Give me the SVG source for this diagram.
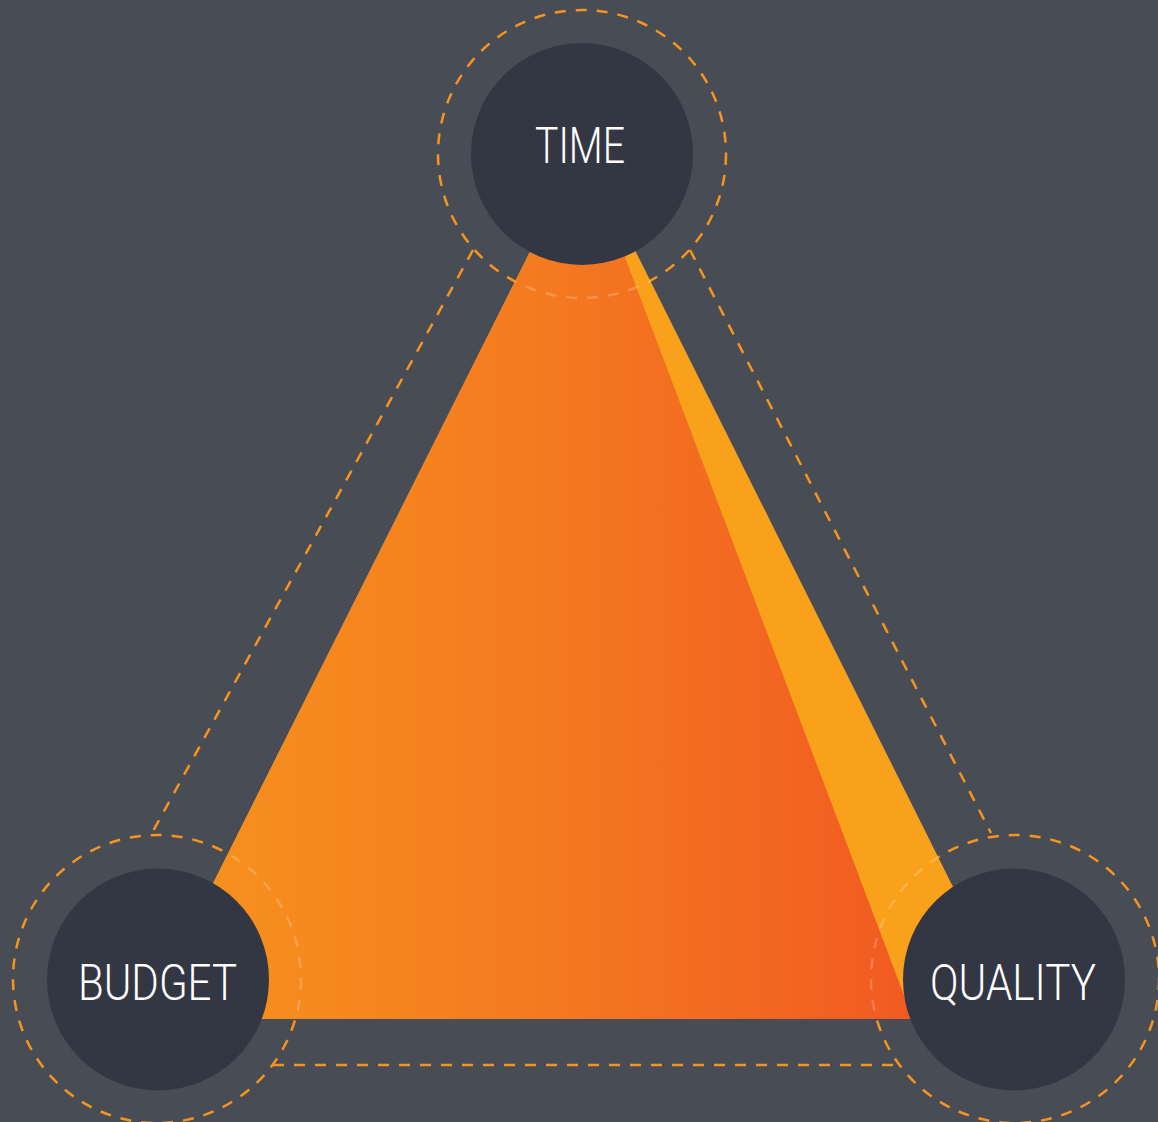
<svg xmlns="http://www.w3.org/2000/svg" width="1158" height="1122" viewBox="0 0 1158 1122">
<style>
.dash{fill:none;stroke:#f7941d;stroke-width:2.5;stroke-dasharray:11 10}
.ghost{fill:none;stroke:#ffffff;stroke-opacity:0.2;stroke-width:2.5;stroke-dasharray:11 10}
.node{fill:#333743}
.lbl{fill:#ffffff;font-family:Roboto,"Liberation Sans",sans-serif;font-weight:300;font-size:50px;text-anchor:middle}
</style>
<defs>
<linearGradient id="og" x1="145" y1="0" x2="913" y2="0" gradientUnits="userSpaceOnUse">
<stop offset="0" stop-color="#f7941d"/>
<stop offset="0.5" stop-color="#f47b20"/>
<stop offset="1" stop-color="#f15a22"/>
</linearGradient>
<clipPath id="triClip"><polygon points="583,146 145,1019 1019,1019"/></clipPath>
</defs>
<rect width="1158" height="1122" fill="#484c55"/>
<g id="connectors">
<circle class="dash" cx="582" cy="154" r="144"/>
<circle class="dash" cx="157" cy="979" r="144"/>
<circle class="dash" cx="1015" cy="979" r="144"/>
<line class="dash" x1="473" y1="250" x2="152" y2="833"/>
<line class="dash" x1="690" y1="250" x2="991" y2="833"/>
<line class="dash" x1="273" y1="1065" x2="900" y2="1065"/>
</g>
<g id="triangle">
<polygon points="583,146 145,1019 1019,1019" fill="#f9a11b"/>
<polygon points="583,146 145,1019 913,1019" fill="url(#og)"/>
<g clip-path="url(#triClip)">
<circle class="ghost" cx="582" cy="154" r="144"/>
<circle class="ghost" cx="157" cy="979" r="144"/>
<circle class="ghost" cx="1015" cy="979" r="144"/>
</g>
</g>
<g id="time">
<circle class="node" cx="582" cy="154" r="111"/>
<text class="lbl" x="580" y="163" textLength="90" lengthAdjust="spacingAndGlyphs">TIME</text>
</g>
<g id="budget">
<circle class="node" cx="158" cy="979.5" r="111"/>
<text class="lbl" x="157.5" y="1000" textLength="159" lengthAdjust="spacingAndGlyphs">BUDGET</text>
</g>
<g id="quality">
<circle class="node" cx="1014" cy="979.5" r="111"/>
<text class="lbl" x="1013" y="1000" textLength="166" lengthAdjust="spacingAndGlyphs">QUALITY</text>
</g>
</svg>
